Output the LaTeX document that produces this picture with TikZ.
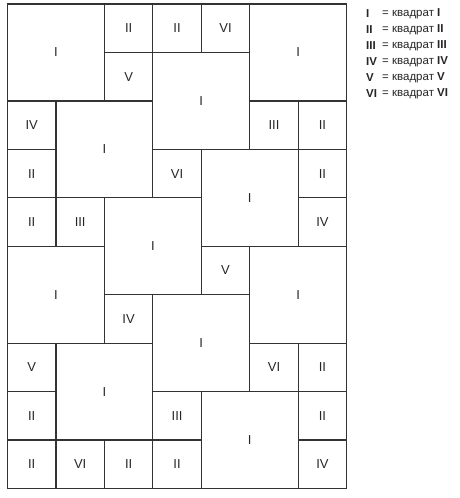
\documentclass[tikz,border=0pt]{standalone}
\usepackage{fontspec}
\setmainfont{Liberation Sans}
\begin{document}
\begin{tikzpicture}[x=1pt,y=-1pt,
  cellbox/.style={draw=black!80, line width=1.2pt, inner sep=0pt, outer sep=0pt,
    font=\fontsize{13}{13}\selectfont, text=black!85},
  legkey/.style={anchor=west, inner sep=0pt, font=\fontsize{11.5}{11.5}\selectfont\bfseries, text=black!85},
  legval/.style={anchor=west, inner sep=0pt, font=\fontsize{11.5}{11.5}\selectfont, text=black!85}]
\useasboundingbox (0,0) rectangle (460,498);
\def\cw{48.45}\def\xo{7.5}\def\yo{4}
\newcommand\sq[5]{\node[cellbox, minimum size={#4*\cw pt}] (#1) at ({\xo+\cw*(#2+#4/2)},{\yo+\cw*(#3+#4/2)}) {#5};}
% row 0-1
\sq{q01}{0}{0}{2}{I}
\sq{q02}{2}{0}{1}{II}
\sq{q03}{3}{0}{1}{II}
\sq{q04}{4}{0}{1}{VI}
\sq{q05}{5}{0}{2}{I}
\sq{q06}{2}{1}{1}{V}
\sq{q07}{3}{1}{2}{I}
% row 2
\sq{q08}{0}{2}{1}{IV}
\sq{q09}{1}{2}{2}{I}
\sq{q10}{5}{2}{1}{III}
\sq{q11}{6}{2}{1}{II}
% row 3
\sq{q12}{0}{3}{1}{II}
\sq{q13}{3}{3}{1}{VI}
\sq{q14}{4}{3}{2}{I}
\sq{q15}{6}{3}{1}{II}
% row 4
\sq{q16}{0}{4}{1}{II}
\sq{q17}{1}{4}{1}{III}
\sq{q18}{2}{4}{2}{I}
\sq{q19}{6}{4}{1}{IV}
% row 5
\sq{q20}{0}{5}{2}{I}
\sq{q21}{4}{5}{1}{V}
\sq{q22}{5}{5}{2}{I}
% row 6
\sq{q23}{2}{6}{1}{IV}
\sq{q24}{3}{6}{2}{I}
% row 7
\sq{q25}{0}{7}{1}{V}
\sq{q26}{1}{7}{2}{I}
\sq{q27}{5}{7}{1}{VI}
\sq{q28}{6}{7}{1}{II}
% row 8
\sq{q29}{0}{8}{1}{II}
\sq{q30}{3}{8}{1}{III}
\sq{q31}{4}{8}{2}{I}
\sq{q32}{6}{8}{1}{II}
% row 9
\sq{q33}{0}{9}{1}{II}
\sq{q34}{1}{9}{1}{VI}
\sq{q35}{2}{9}{1}{II}
\sq{q36}{3}{9}{1}{II}
\sq{q37}{6}{9}{1}{IV}
% legend
\foreach \k/\n [count=\i] in {I/I,II/II,III/III,IV/IV,V/V,VI/VI}{
  \node[legkey] (key\i) at (366,{14+16*(\i-1)}) {\k};
  \node[legval] (val\i) at (382,{14+16*(\i-1)}) {= квадрат \textbf{\n}};
}
\end{tikzpicture}
\end{document}
